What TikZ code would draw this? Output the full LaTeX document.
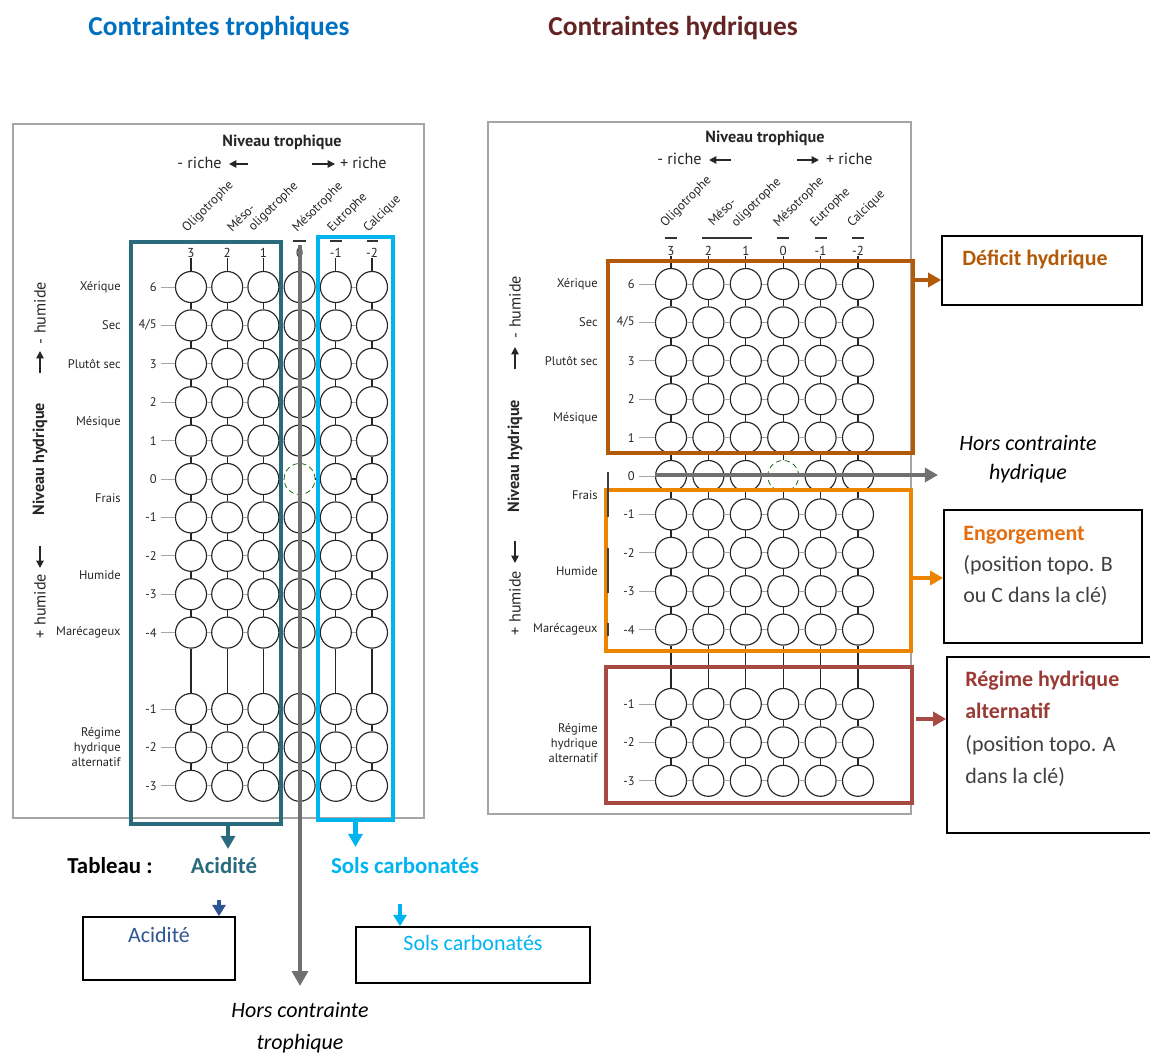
\documentclass[tikz,border=0pt]{standalone}
\usepackage{fontspec}
\setmainfont{Carlito}
\newfontfamily\chartfont{PT Sans}
\usetikzlibrary{arrows.meta,fit}

\definecolor{titleblue}{RGB}{0,112,192}
\definecolor{titlered}{RGB}{99,37,35}
\definecolor{acidteal}{RGB}{41,107,124}
\definecolor{carbcyan}{RGB}{0,180,240}
\definecolor{acidblue}{RGB}{47,86,146}
\definecolor{hcgray}{RGB}{112,112,112}
\definecolor{defbrown}{RGB}{178,90,10}
\definecolor{engorange}{RGB}{236,132,0}
\definecolor{engtext}{RGB}{228,110,15}
\definecolor{rhabox}{RGB}{168,74,68}
\definecolor{rhatext}{RGB}{155,58,52}
\definecolor{boxtext}{RGB}{64,64,64}
\definecolor{framegray}{RGB}{165,165,165}

\begin{document}
\begin{tikzpicture}[x=0.02cm,y=-0.02cm,
  cell/.style={circle,draw=black!85,line width=0.65pt,minimum size=0.62cm,inner sep=0pt},
  ghost/.style={circle,draw=green!35!black,densely dashed,line width=0.4pt,minimum size=0.62cm,inner sep=0pt},
  hlink/.style={draw=black!35,line width=0.45pt},
  vlink/.style={draw=black!85,line width=0.6pt},
  chart/.style={font=\chartfont\fontsize{7.1}{8.6}\selectfont,text=black!85,inner sep=0pt},
  rowlab/.style={chart,anchor=east,align=right},
  numlab/.style={chart,anchor=east},
  toplab/.style={chart,font=\chartfont\fontsize{7.4}{8.6}\selectfont},
  collab/.style={chart,rotate=45,anchor=base west,font=\chartfont\fontsize{7.3}{8}\selectfont},
  head/.style={chart,font=\chartfont\bfseries\fontsize{9.2}{10}\selectfont},
  riche/.style={chart,font=\chartfont\fontsize{9.2}{10}\selectfont},
  glyph/.style={draw=black!85,line width=0.9pt,-{Triangle[length=4.2pt,width=4.2pt]}},
  panel/.style={draw=framegray,line width=0.85pt,inner sep=0pt},
  zone/.style={line width=2.3pt,inner sep=0pt},
  bigarrow/.style={line width=2.6pt,-{Triangle[length=8.5pt,width=9pt]}},
  midarrow/.style={line width=2.3pt,-{Triangle[length=7.5pt,width=8pt]}},
  smallarrow/.style={line width=2pt,-{Triangle[length=6.5pt,width=7.5pt]}},
  keybox/.style={draw=black,line width=0.9pt,inner sep=0pt},
  keytext/.style={font=\fontsize{12.5}{18}\selectfont,inner sep=0pt}
]
\useasboundingbox (0,0) rectangle (1150,1055);

% ---------- titles ----------
\node[font=\bfseries\fontsize{15.6}{18}\selectfont,text=titleblue] (t1) at (219,28) {Contraintes trophiques};
\node[font=\bfseries\fontsize{15.6}{18}\selectfont,text=titlered] (t2) at (673,28) {Contraintes hydriques};

% ---------- panel frames ----------
\node[panel,fit={(13,124) (424,818)}] (frameL) {};
\node[panel,fit={(488,122) (911,814)}] (frameR) {};

% ========== left panel ==========
\node[head] (htL) at (282,142) {Niveau trophique};
\node[riche,anchor=west] (rmL) at (177,163) {- riche};
\node[riche,anchor=east] (rpL) at (387,163) {+ riche};
\coordinate (lA1) at (248,164); \coordinate (lA2) at (229,164);
\coordinate (lB1) at (312,164); \coordinate (lB2) at (335,164);
\draw[glyph] (lA1) -- (lA2);
\draw[glyph] (lB1) -- (lB2);

\node[collab] at (187,233) {Oligotrophe};
\node[collab] at (232,233) {Méso-};
\node[collab] at (253,232) {oligotrophe};
\node[collab] at (297,233) {Mésotrophe};
\node[collab] at (332,233) {Eutrophe};
\node[collab] at (368,233) {Calcique};

\draw[draw=black!80,line width=0.8pt] (185,241) -- (197,241) (222,241) -- (270,241)
  (293,241) -- (306,241) (330,241) -- (342,241) (367,241) -- (378,241);

\foreach \c/\x/\t in {1/191/3,2/227.2/2,3/263.4/1,4/299.6/0,5/335.8/-1,6/372/-2}
  \node[toplab] (tL-\c) at (\x,253) {\t};

\node[head,rotate=90] (nhL) at (40,459) {Niveau hydrique};
\node[riche,rotate=90] (mhL) at (40,313) {- humide};
\node[riche,rotate=90] (phL) at (40,606) {+ humide};
\coordinate (lC1) at (40,373); \coordinate (lC2) at (40,351);
\coordinate (lD1) at (40,546); \coordinate (lD2) at (40,568);
\draw[glyph] (lC1) -- (lC2);
\draw[glyph] (lD1) -- (lD2);

\node[rowlab] at (121,287) {Xérique};
\node[rowlab] at (121,325.4) {Sec};
\node[rowlab] at (121,363.8) {Plutôt sec};
\node[rowlab] at (121,422) {Mésique};
\node[rowlab] at (121,498) {Frais};
\node[rowlab] at (121,575) {Humide};
\node[rowlab] at (121,632.6) {Marécageux};
\node[rowlab] at (121,747) {Régime\\hydrique\\alternatif};

% circles of the left grid
\foreach \k/\y/\t in {1/287/6,2/325.4/4\slash5,3/363.8/3,4/402.2/2,5/440.6/1,6/479/0,7/517.4/-1,
    8/555.8/-2,9/594.2/-3,10/632.6/-4,11/709/-1,12/747.4/-2,13/785.8/-3}{
  \node[numlab] (nL-\k) at (157,\y) {\t};
  \foreach \c/\x in {1/191,2/227.2,3/263.4,4/299.6,5/335.8,6/372}{
    \ifnum\k\c=64 \def\cellstyle{ghost}\else\def\cellstyle{cell}\fi
    \node[\cellstyle] (L-\k-\c) at (\x,\y) {};
  }
  \draw[hlink,shorten <=2.2pt] (nL-\k) -- (L-\k-1);
}
\foreach \k in {1,...,13}{
  \foreach \c in {1,...,5}{
    \pgfmathtruncatemacro\n{\c+1}
    \draw[hlink] (L-\k-\c) -- (L-\k-\n);
  }
}
\foreach \k in {1,...,12}{
  \pgfmathtruncatemacro\m{\k+1}
  \foreach \c in {1,...,6}{
    \draw[vlink] (L-\k-\c) -- (L-\m-\c);
  }
}
\foreach \c in {1,...,6} \draw[vlink] (tL-\c) -- (L-1-\c);
\draw[vlink] (L-6-4) -- (L-6-5) (L-6-5) -- (L-6-6);

% coloured zones of the left panel
\node[zone,draw=acidteal,fit={(131,242) (281,824)}] (tbox) {};
\node[zone,draw=carbcyan,fit={(318,237) (393,820)}] (cbox) {};

% labels under the left panel
\node[font=\bfseries\fontsize{13}{16}\selectfont] (tab) at (110,866) {Tableau :};
\node[font=\bfseries\fontsize{13}{16}\selectfont,text=acidteal] (lacid) at (224,866) {Acidité};
\node[font=\bfseries\fontsize{13}{16}\selectfont,text=carbcyan] (lcarb) at (405,866) {Sols carbonatés};

\coordinate (tend) at (228,849);
\draw[midarrow,draw=acidteal,fill=acidteal] (tbox.south -| tend) -- (tend);
\coordinate (cend) at (355.5,847);
\draw[midarrow,draw=carbcyan,fill=carbcyan] (cbox.south) -- (cend);

\node[keybox,fit={(83,917) (235,980)}] (abox) {};
\node[keytext,text=acidblue] at (159,935) {Acidité};
\node[keybox,fit={(356,927) (590,983)}] (sbox) {};
\node[keytext,text=carbcyan] at (473,943) {Sols carbonatés};

\coordinate (sa1) at (219,900);
\draw[smallarrow,draw=acidblue,fill=acidblue] (sa1) -- (sa1 |- abox.north);
\coordinate (sa2) at (400,904);
\draw[smallarrow,draw=carbcyan,fill=carbcyan] (sa2) -- (sa2 |- sbox.north);

% gray bar : outside trophic constraint
\coordinate (gtop) at (300,245);
\coordinate (gtip) at (300,986);
\draw[bigarrow,draw=hcgray,fill=hcgray] (gtop) -- (gtip);
\node[font=\itshape\fontsize{12.5}{18.2}\selectfont,align=center] (hct) at (300,1028) {Hors contrainte\\trophique};

% ========== right panel ==========
\node[head] (htR) at (765,138) {Niveau trophique};
\node[riche,anchor=west] (rmR) at (657,159) {- riche};
\node[riche,anchor=east] (rpR) at (873,159) {+ riche};
\coordinate (rA1) at (731,160); \coordinate (rA2) at (709,160);
\coordinate (rB1) at (797,160); \coordinate (rB2) at (819,160);
\draw[glyph] (rA1) -- (rA2);
\draw[glyph] (rB1) -- (rB2);

\node[collab] at (665,228) {Oligotrophe};
\node[collab] at (713,227) {Méso-};
\node[collab] at (736,228) {oligotrophe};
\node[collab] at (778,228) {Mésotrophe};
\node[collab] at (815,228) {Eutrophe};
\node[collab] at (852,228) {Calcique};

\draw[draw=black!80,line width=0.8pt] (665,238) -- (677,238) (702,238) -- (752,238)
  (777,238) -- (789,238) (815,238) -- (827,238) (852,238) -- (864,238);

\foreach \c/\x/\t in {1/671/3,2/708.4/2,3/745.8/1,4/783.2/0,5/820.6/-1,6/858/-2}
  \node[toplab] (tR-\c) at (\x,251) {\t};

\node[head,rotate=90] (nhR) at (515,456) {Niveau hydrique};
\node[riche,rotate=90] (mhR) at (515,307) {- humide};
\node[riche,rotate=90] (phR) at (515,603) {+ humide};
\coordinate (rC1) at (515,369); \coordinate (rC2) at (515,347);
\coordinate (rD1) at (515,541); \coordinate (rD2) at (515,563);
\draw[glyph] (rC1) -- (rC2);
\draw[glyph] (rD1) -- (rD2);

\node[rowlab] at (598,284) {Xérique};
\node[rowlab] at (598,322.4) {Sec};
\node[rowlab] at (598,360.8) {Plutôt sec};
\node[rowlab] at (598,418) {Mésique};
\node[rowlab] at (598,495) {Frais};
\node[rowlab] at (598,571) {Humide};
\node[rowlab] at (598,629.6) {Marécageux};
\node[rowlab] at (598,743) {Régime\\hydrique\\alternatif};

% circles of the right grid
\foreach \k/\y/\t in {1/284/6,2/322.4/4\slash5,3/360.8/3,4/399.2/2,5/437.6/1,6/476/0,7/514.4/-1,
    8/552.8/-2,9/591.2/-3,10/629.6/-4,11/704/-1,12/742.4/-2,13/780.8/-3}{
  \node[numlab] (nR-\k) at (635,\y) {\t};
  \foreach \c/\x in {1/671,2/708.4,3/745.8,4/783.2,5/820.6,6/858}{
    \ifnum\k\c=64 \def\cellstyle{ghost}\else\def\cellstyle{cell}\fi
    \node[\cellstyle] (R-\k-\c) at (\x,\y) {};
  }
  \draw[hlink,shorten <=2.2pt] (nR-\k) -- (R-\k-1);
}
\foreach \k in {1,...,13}{
  \foreach \c in {1,...,5}{
    \pgfmathtruncatemacro\n{\c+1}
    \draw[hlink] (R-\k-\c) -- (R-\k-\n);
  }
}
\foreach \k in {1,...,12}{
  \pgfmathtruncatemacro\m{\k+1}
  \foreach \c in {1,...,6}{
    \draw[vlink] (R-\k-\c) -- (R-\m-\c);
  }
}
\foreach \c in {1,...,6} \draw[vlink] (tR-\c) -- (R-1-\c);

% coloured zones of the right panel
\node[zone,draw=defbrown,fit={(608,261) (913,453)}] (bbox) {};
\node[zone,draw=engorange,fit={(606,490) (911,651)}] (obox) {};
\node[zone,draw=rhabox,fit={(606,667) (912,803)}] (rbox) {};
\draw[draw=black!75,line width=0.9pt] (608,472) -- (608,517) (608,548) -- (608,593) (608,623) -- (608,636);

% gray bar : outside water constraint
\coordinate (ga) at (655,475);
\coordinate (gb) at (938,475);
\draw[midarrow,draw=hcgray,fill=hcgray] (ga) -- (gb);
\node[font=\itshape\fontsize{12.5}{16.5}\selectfont,align=center] (hch) at (1028,459) {Hors contrainte\\hydrique};

% key boxes on the right
\node[keybox,fit={(942,236) (1142,305)}] (dbox) {};
\node[keytext,anchor=west,font=\bfseries\fontsize{12.5}{18}\selectfont,text=defbrown] at (962,260) {Déficit hydrique};

\node[keybox,fit={(944,510) (1142,643)}] (ebox) {};
\node[keytext,anchor=west,align=left,text=boxtext,font=\fontsize{12.5}{17.6}\selectfont] at (963,566)
  {\textcolor{engtext}{\bfseries Engorgement}\\(position topo. B\\ou C dans la clé)};

\node[keybox,fit={(947,657) (1165,833)}] (hbox) {};
\node[keytext,anchor=west,align=left,text=boxtext,font=\fontsize{12.5}{18.5}\selectfont] at (965,729)
  {\textcolor{rhatext}{\bfseries Régime hydrique}\\\textcolor{rhatext}{\bfseries alternatif}\\(position topo. A\\dans la clé)};

\coordinate (ba) at (913,280);
\draw[midarrow,draw=defbrown,fill=defbrown] (ba) -- (ba -| dbox.west);
\coordinate (oa) at (913,578);
\draw[midarrow,draw=engorange,fill=engorange] (oa) -- (oa -| ebox.west);
\coordinate (ra) at (916,719);
\draw[midarrow,draw=rhabox,fill=rhabox] (ra) -- (ra -| hbox.west);

\end{tikzpicture}
\end{document}
